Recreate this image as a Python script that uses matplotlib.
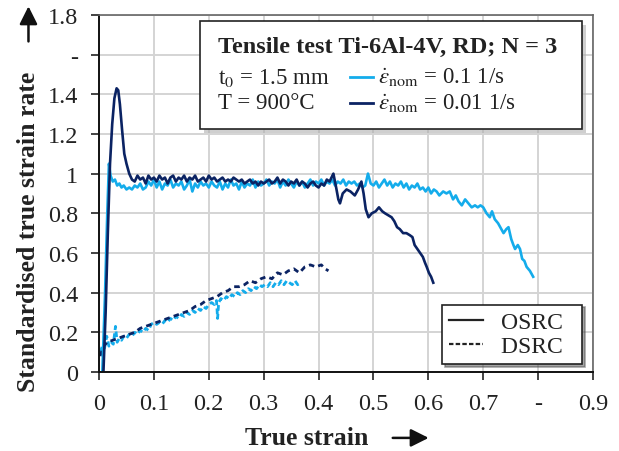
import matplotlib
matplotlib.use('Agg')
import matplotlib.pyplot as plt
from matplotlib.patches import Rectangle, FancyArrowPatch
from matplotlib.lines import Line2D

plt.rcParams['font.family'] = ['Liberation Serif', 'DejaVu Serif']
plt.rcParams['mathtext.fontset'] = 'stix'

light = '#14ACEB'
dark = '#0B2363'

# OSRC, 0.1 1/s (light blue, solid)
osrc_fast_x = [0.006, 0.011, 0.015, 0.018, 0.021, 0.025, 0.029, 0.033, 0.037, 0.041, 0.045, 0.050,
               0.055, 0.060, 0.065, 0.070, 0.075, 0.080, 0.085, 0.090, 0.095, 0.100, 0.105, 0.110,
               0.115, 0.120, 0.125, 0.130, 0.135, 0.140, 0.145, 0.150, 0.155, 0.160, 0.165, 0.170,
               0.175, 0.180, 0.185, 0.190, 0.195, 0.200, 0.205, 0.210, 0.215, 0.220, 0.225, 0.230,
               0.235, 0.240, 0.245, 0.250, 0.255, 0.260, 0.265, 0.270, 0.275, 0.280, 0.285, 0.290,
               0.295, 0.300, 0.305, 0.310, 0.315, 0.320, 0.325, 0.330, 0.335, 0.340, 0.345, 0.350,
               0.355, 0.360, 0.365, 0.370, 0.375, 0.380, 0.385, 0.390, 0.395, 0.400, 0.405, 0.410,
               0.415, 0.420, 0.425, 0.430, 0.435, 0.440, 0.445, 0.450, 0.455, 0.460, 0.465, 0.470,
               0.475, 0.480, 0.485, 0.490, 0.495, 0.500, 0.505, 0.510, 0.515, 0.520, 0.525, 0.530,
               0.535, 0.540, 0.545, 0.550, 0.555, 0.560, 0.565, 0.570, 0.575, 0.580, 0.585, 0.590,
               0.595, 0.600, 0.605, 0.610, 0.615, 0.620, 0.627, 0.633, 0.639, 0.645, 0.650, 0.655,
               0.661, 0.667, 0.673, 0.679, 0.685, 0.690, 0.695, 0.700, 0.706, 0.712, 0.716, 0.721,
               0.727, 0.733, 0.737, 0.742, 0.746, 0.751, 0.755, 0.758, 0.763, 0.767, 0.771, 0.775,
               0.779, 0.785, 0.791]
osrc_fast_y = [0.00, 0.40, 0.80, 1.05, 0.99, 0.96, 0.97, 0.94, 0.95, 0.93, 0.94, 0.92,
               0.93, 0.92, 0.94, 0.93, 0.95, 0.92, 0.93, 0.96, 0.94, 0.97, 0.93, 0.96,
               0.92, 0.95, 0.94, 0.97, 0.93, 0.95, 0.94, 0.96, 0.92, 0.94, 0.97, 0.91,
               0.95, 0.93, 0.96, 0.94, 0.95, 0.93, 0.96, 0.94, 0.93, 0.96, 0.92, 0.95,
               0.93, 0.97, 0.94, 0.95, 0.92, 0.96, 0.93, 0.95, 0.94, 0.97, 0.93, 0.96,
               0.94, 0.95, 0.97, 0.94, 0.96, 0.95, 0.97, 0.93, 0.96, 0.94, 0.97, 0.95,
               0.93, 0.96, 0.94, 0.96, 0.93, 0.95, 0.97, 0.94, 0.96, 0.95, 0.97, 0.94,
               0.96, 0.95, 0.97, 0.94, 0.96, 0.95, 0.97, 0.94, 0.96, 0.95, 0.96, 0.94,
               0.95, 0.93, 0.94, 1.00, 0.95, 0.94, 0.96, 0.93, 0.95, 0.97, 0.94, 0.96,
               0.93, 0.95, 0.94, 0.96, 0.93, 0.95, 0.92, 0.94, 0.93, 0.95, 0.92, 0.93,
               0.91, 0.93, 0.90, 0.92, 0.91, 0.89, 0.91, 0.90, 0.91, 0.87, 0.89, 0.86,
               0.84, 0.87, 0.85, 0.83, 0.84, 0.83, 0.84, 0.83, 0.80, 0.78, 0.81, 0.77,
               0.75, 0.72, 0.70, 0.72, 0.73, 0.67, 0.64, 0.62, 0.64, 0.62, 0.57, 0.56,
               0.53, 0.51, 0.48]

# OSRC, 0.01 1/s (dark blue, solid)
osrc_slow_x = [0.008, 0.012, 0.016, 0.020, 0.024, 0.028, 0.032, 0.035, 0.038, 0.042, 0.046, 0.050,
               0.055, 0.060, 0.065, 0.070, 0.075, 0.080, 0.085, 0.090, 0.095, 0.100, 0.105, 0.110,
               0.115, 0.120, 0.125, 0.130, 0.135, 0.140, 0.145, 0.150, 0.155, 0.160, 0.165, 0.170,
               0.175, 0.180, 0.185, 0.190, 0.195, 0.200, 0.205, 0.210, 0.215, 0.220, 0.225, 0.230,
               0.235, 0.240, 0.245, 0.250, 0.255, 0.260, 0.265, 0.270, 0.275, 0.280, 0.285, 0.290,
               0.295, 0.300, 0.305, 0.310, 0.315, 0.320, 0.325, 0.330, 0.335, 0.340, 0.345, 0.350,
               0.355, 0.360, 0.365, 0.370, 0.375, 0.380, 0.385, 0.390, 0.395, 0.400, 0.405, 0.410,
               0.415, 0.420, 0.427, 0.432, 0.436, 0.439, 0.444, 0.451, 0.458, 0.466, 0.472, 0.478,
               0.482, 0.486, 0.491, 0.497, 0.504, 0.510, 0.516, 0.521, 0.527, 0.533, 0.538, 0.543,
               0.548, 0.554, 0.560, 0.566, 0.571, 0.575, 0.580, 0.585, 0.590, 0.594, 0.597, 0.601,
               0.605, 0.609]
osrc_slow_y = [0.00, 0.30, 0.70, 1.05, 1.25, 1.38, 1.43, 1.42, 1.35, 1.22, 1.10, 1.05,
               1.00, 0.97, 0.96, 0.99, 0.97, 0.98, 0.95, 0.99, 0.97, 0.98, 0.96, 0.99,
               0.97, 0.98, 0.95, 0.98, 0.99, 0.96, 0.98, 0.97, 0.99, 0.96, 0.98, 0.97,
               0.99, 0.96, 0.97, 0.98, 0.96, 0.99, 0.97, 0.98, 0.96, 0.97, 0.98, 0.96,
               0.97, 0.96, 0.98, 0.97, 0.96, 0.97, 0.95, 0.96, 0.97, 0.95, 0.96, 0.94,
               0.96, 0.95, 0.96, 0.97, 0.95, 0.96, 0.98, 0.95, 0.97, 0.96, 0.94, 0.96,
               0.95, 0.97, 0.94, 0.96, 0.95, 0.93, 0.95, 0.96, 0.94, 0.93, 0.95, 0.94,
               0.97, 0.96, 1.00, 0.93, 0.87, 0.85, 0.90, 0.92, 0.91, 0.89, 0.92, 0.96,
               0.90, 0.82, 0.78, 0.80, 0.81, 0.83, 0.81, 0.80, 0.79, 0.78, 0.76, 0.73,
               0.72, 0.70, 0.70, 0.69, 0.68, 0.64, 0.62, 0.60, 0.58, 0.55, 0.53, 0.50,
               0.48, 0.45]

# DSRC, 0.1 1/s (light blue, dashed)
dsrc_fast_x = [0.002, 0.006, 0.010, 0.014, 0.018, 0.022, 0.026, 0.030, 0.033, 0.037, 0.041, 0.045,
               0.050, 0.055, 0.060, 0.065, 0.070, 0.075, 0.080, 0.085, 0.090, 0.095, 0.100, 0.105,
               0.110, 0.115, 0.120, 0.125, 0.130, 0.135, 0.140, 0.145, 0.150, 0.155, 0.160, 0.165,
               0.170, 0.175, 0.180, 0.185, 0.190, 0.195, 0.200, 0.205, 0.210, 0.214, 0.216, 0.218,
               0.222, 0.227, 0.232, 0.237, 0.242, 0.247, 0.252, 0.257, 0.262, 0.267, 0.272, 0.277,
               0.282, 0.287, 0.292, 0.297, 0.302, 0.307, 0.312, 0.317, 0.322, 0.327, 0.332, 0.337,
               0.342, 0.347, 0.352, 0.357, 0.362, 0.366]
dsrc_fast_y = [0.10, 0.13, 0.12, 0.18, 0.13, 0.15, 0.14, 0.23, 0.15, 0.17, 0.16, 0.18,
               0.17, 0.19, 0.18, 0.20, 0.19, 0.21, 0.20, 0.22, 0.21, 0.24, 0.25, 0.24,
               0.25, 0.24, 0.26, 0.25, 0.27, 0.26, 0.28, 0.27, 0.29, 0.28, 0.30, 0.29,
               0.31, 0.30, 0.32, 0.31, 0.33, 0.32, 0.34, 0.35, 0.34, 0.36, 0.27, 0.35,
               0.37, 0.36, 0.38, 0.37, 0.39, 0.38, 0.40, 0.39, 0.41, 0.40, 0.42, 0.41,
               0.43, 0.42, 0.44, 0.43, 0.44, 0.43, 0.45, 0.43, 0.45, 0.44, 0.46, 0.44,
               0.46, 0.45, 0.44, 0.46, 0.44, 0.45]

# DSRC, 0.01 1/s (dark blue, dashed)
dsrc_slow_x = [0.002, 0.008, 0.015, 0.025, 0.035, 0.045, 0.055, 0.065, 0.075, 0.085, 0.095, 0.105,
               0.115, 0.125, 0.135, 0.145, 0.155, 0.165, 0.175, 0.185, 0.195, 0.205, 0.215, 0.225,
               0.235, 0.245, 0.255, 0.265, 0.275, 0.285, 0.295, 0.305, 0.315, 0.325, 0.335, 0.345,
               0.355, 0.365, 0.375, 0.385, 0.395, 0.405, 0.412, 0.418]
dsrc_slow_y = [0.08, 0.13, 0.15, 0.16, 0.17, 0.18, 0.19, 0.20, 0.22, 0.23, 0.24, 0.25,
               0.26, 0.27, 0.28, 0.29, 0.30, 0.31, 0.33, 0.34, 0.36, 0.37, 0.38, 0.40,
               0.41, 0.43, 0.43, 0.44, 0.46, 0.45, 0.47, 0.48, 0.47, 0.50, 0.49, 0.51,
               0.52, 0.50, 0.53, 0.54, 0.53, 0.54, 0.52, 0.51]

x_ticks = [0, 0.1, 0.2, 0.3, 0.4, 0.5, 0.6, 0.7, 0.8, 0.9]
x_labels = ['0', '0.1', '0.2', '0.3', '0.4', '0.5', '0.6', '0.7', '-', '0.9']
y_ticks = [0, 0.2, 0.4, 0.6, 0.8, 1.0, 1.2, 1.4, 1.6, 1.8]
y_labels = ['0', '0.2', '0.4', '0.6', '0.8', '1', '1.2', '1.4', '-', '1.8']

fig = plt.figure(figsize=(6.19, 4.52), dpi=100)
ax = fig.add_axes([0.16, 0.1748, 0.798, 0.79])

ax.plot(dsrc_fast_x, dsrc_fast_y, color=light, lw=2.0, ls=(0, (2, 1.2)))
ax.plot(dsrc_slow_x, dsrc_slow_y, color=dark, lw=2.0, ls=(0, (2, 1.5)))
ax.plot(osrc_fast_x, osrc_fast_y, color=light, lw=1.9)
ax.plot(osrc_slow_x, osrc_slow_y, color=dark, lw=1.9)

ax.set_xlim(0, 0.9)
ax.set_ylim(0, 1.8)
ax.set_xticks(x_ticks)
ax.set_xticklabels(x_labels)
ax.set_yticks(y_ticks)
ax.set_yticklabels(y_labels)
ax.grid(True, color='#D4D4D4', lw=1.4)
ax.set_axisbelow(True)
ax.tick_params(labelsize=17.5, length=6, width=1.2, colors='#222222', pad=9)
for s in ['left', 'bottom']:
    ax.spines[s].set_color('#111111')
    ax.spines[s].set_linewidth(1.4)
for s in ['top', 'right']:
    ax.spines[s].set_color('#666666')
    ax.spines[s].set_linewidth(1.2)

# info box
bx0, by0, bw, bh = 0.2045, 0.681, 0.7735, 0.302
ax.add_patch(Rectangle((bx0 + 0.007, by0 - 0.012), bw, bh, transform=ax.transAxes,
                       facecolor='#B0B0B0', edgecolor='none', zorder=5, alpha=0.6))
ax.add_patch(Rectangle((bx0, by0), bw, bh, transform=ax.transAxes,
                       facecolor='white', edgecolor='#222222', lw=1.2, zorder=6))
ax.text(0.241, 0.913, 'Tensile test Ti-6Al-4V, RD; N = 3', transform=ax.transAxes,
        fontsize=17.5, fontweight='bold', va='center', ha='left', zorder=7, color='#222222')
ax.text(0.241, 0.826, 't$_0$ = 1.5 mm', transform=ax.transAxes,
        fontsize=16.5, va='center', ha='left', zorder=7, color='#222222')
ax.text(0.241, 0.754, 'T = 900°C', transform=ax.transAxes,
        fontsize=16.5, va='center', ha='left', zorder=7, color='#222222')
ax.add_line(Line2D([0.508, 0.555], [0.826, 0.826], transform=ax.transAxes, color=light, lw=2, zorder=7))
ax.add_line(Line2D([0.508, 0.555], [0.754, 0.754], transform=ax.transAxes, color=dark, lw=2, zorder=7))
ax.text(0.565, 0.826, r'$\dot{\varepsilon}_{\mathrm{nom}}$ = 0.1 1/s', transform=ax.transAxes,
        fontsize=16.5, va='center', ha='left', zorder=7, color='#222222')
ax.text(0.565, 0.754, r'$\dot{\varepsilon}_{\mathrm{nom}}$ = 0.01 1/s', transform=ax.transAxes,
        fontsize=16.5, va='center', ha='left', zorder=7, color='#222222')

# line style legend
handles = [Line2D([], [], color='#222222', lw=1.6, ls='-'),
           Line2D([], [], color='#222222', lw=1.6, ls=(0, (2, 1)))]
leg = ax.legend(handles, ['OSRC  ', 'DSRC  '], loc='lower right', bbox_to_anchor=(0.978, 0.022),
                borderaxespad=0, fancybox=False, shadow=True, fontsize=17,
                handlelength=1.4, handletextpad=0.8, borderpad=0.3, labelspacing=0.1,
                framealpha=1, edgecolor='#222222')
leg.get_frame().set_linewidth(1.2)
for t in leg.get_texts():
    t.set_color('#222222')

# axis labels with arrows
fig.text(0.046, 0.487, 'Standardised true strain rate', rotation=90, fontsize=18.5,
         fontweight='bold', ha='center', va='center', color='#222222')
fig.text(0.495, 0.029, 'True strain', fontsize=18.5, fontweight='bold',
         ha='center', va='center', color='#222222')
fig.add_artist(FancyArrowPatch((0.046, 0.90), (0.046, 0.99),
               transform=fig.transFigure, arrowstyle='-|>,head_length=0.6,head_width=0.3',
               mutation_scale=18, color='#111111', lw=1.8))
fig.add_artist(FancyArrowPatch((0.630, 0.029), (0.697, 0.029),
               transform=fig.transFigure, arrowstyle='-|>,head_length=0.6,head_width=0.3',
               mutation_scale=18, color='#111111', lw=1.8))

fig.savefig('out.png', dpi=100)
